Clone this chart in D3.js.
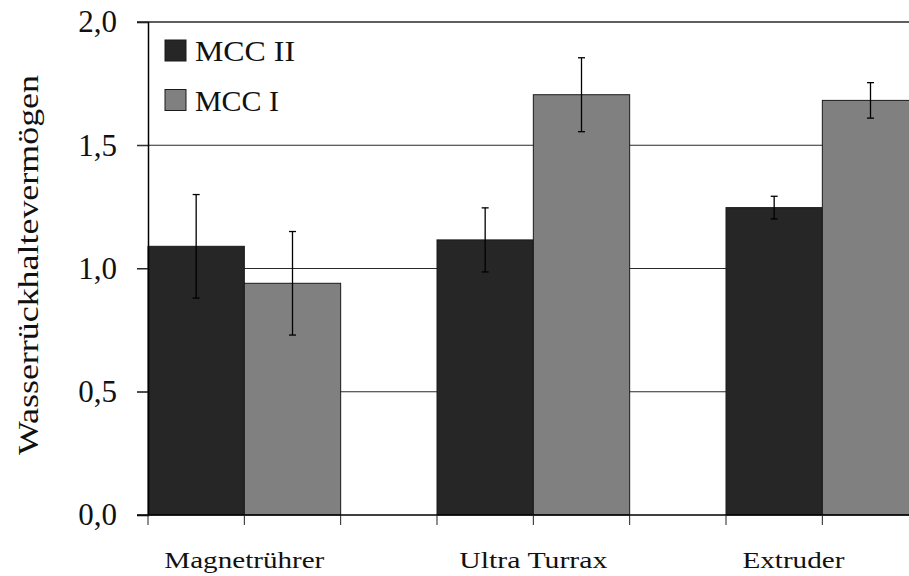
<!DOCTYPE html>
<html>
<head>
<meta charset="utf-8">
<script src="https://cdn.jsdelivr.net/npm/d3@7"></script>
<style>
  body { margin: 0; background: #fff; }
  svg { display: block; }
  text { font-family: "Liberation Serif", "Times New Roman", Times, serif; fill: #111; }
</style>
</head>
<body>
<div id="app"></div>
<script>
// data
const categories = ["Magnetrührer", "Ultra Turrax", "Extruder"];
const seriesNames = ["MCC II", "MCC I"];
const seriesColors = ["#262626", "#808080"];
const mccII = [1.09, 1.116, 1.247];
const mccIIErr = [0.21, 0.13, 0.046];
const mccI = [0.94, 1.705, 1.682];
const mccIErr = [0.21, 0.15, 0.072];
const yTicks = [0, 0.5, 1.0, 1.5, 2.0];
const yTitle = "Wasserrückhaltevermögen";

const width = 909, height = 576;
const plotLeft = 148, plotTop = 22, plotBottom = 515;
const step = 289; // width of one category slot

const rows = categories.map((c, i) => ({
  cat: c,
  vals: [
    { s: 0, v: mccII[i], e: mccIIErr[i] },
    { s: 1, v: mccI[i], e: mccIErr[i] }
  ]
}));

const svg = d3.select("#app").append("svg")
  .attr("width", width)
  .attr("height", height);

// excel style: gap width 100% -> half a bar of room either side
const x = d3.scaleBand()
  .domain(categories)
  .range([plotLeft - step / 6, plotLeft - step / 6 + step * 3])
  .paddingInner(1 / 3)
  .paddingOuter(1 / 6);

const xs = d3.scaleBand()
  .domain(d3.range(seriesNames.length))
  .range([0, x.bandwidth()]);

const y = d3.scaleLinear().domain([0, 2]).range([plotBottom, plotTop]);

// gridlines
svg.append("g")
  .selectAll("line")
  .data(yTicks.filter(d => d > 0))
  .join("line")
    .attr("x1", plotLeft - 11).attr("x2", width)
    .attr("y1", d => y(d)).attr("y2", d => y(d))
    .attr("stroke", "#2a2a2a")
    .attr("stroke-width", d => d === 2 ? 1.6 : 1.1);

// bars
const g = svg.append("g")
  .selectAll("g")
  .data(rows)
  .join("g")
    .attr("transform", d => `translate(${x(d.cat)},0)`);

g.selectAll("rect")
  .data(d => d.vals)
  .join("rect")
    .attr("x", d => xs(d.s))
    .attr("y", d => y(d.v))
    .attr("width", xs.bandwidth())
    .attr("height", d => y(0) - y(d.v))
    .attr("fill", d => seriesColors[d.s])
    .attr("stroke", "#1a1a1a")
    .attr("stroke-width", 1);

// error bars
const eb = g.selectAll("g.err")
  .data(d => d.vals)
  .join("g")
    .attr("class", "err")
    .attr("stroke", "#000")
    .attr("stroke-width", 1.3);
const cx = d => xs(d.s) + xs.bandwidth() / 2;
eb.append("line")
  .attr("x1", cx).attr("x2", cx)
  .attr("y1", d => y(d.v + d.e)).attr("y2", d => y(d.v - d.e));
eb.append("line")
  .attr("x1", d => cx(d) - 3.5).attr("x2", d => cx(d) + 3.5)
  .attr("y1", d => y(d.v + d.e)).attr("y2", d => y(d.v + d.e));
eb.append("line")
  .attr("x1", d => cx(d) - 3.5).attr("x2", d => cx(d) + 3.5)
  .attr("y1", d => y(d.v - d.e)).attr("y2", d => y(d.v - d.e));

// y axis
const yAxis = svg.append("g")
  .attr("transform", `translate(${plotLeft},0)`)
  .call(d3.axisLeft(y)
    .tickValues(yTicks)
    .tickSize(11)
    .tickPadding(20)
    .tickFormat(d => d3.format(".1f")(d).replace(".", ",")));
yAxis.attr("font-family", null);
yAxis.select(".domain").attr("stroke", "#000").attr("stroke-width", 1.5);
yAxis.selectAll(".tick line").attr("stroke", "#222");
yAxis.selectAll("text")
  .style("font-size", "31px")
  .attr("fill", "#111");

// x axis line + ticks at every bar edge
svg.append("line")
  .attr("x1", plotLeft - 11).attr("x2", width)
  .attr("y1", plotBottom).attr("y2", plotBottom)
  .attr("stroke", "#000").attr("stroke-width", 1.5);

const edges = [];
categories.forEach(c => {
  edges.push(x(c), x(c) + x.bandwidth() / 2, x(c) + x.bandwidth());
});
svg.append("g")
  .selectAll("line")
  .data(edges)
  .join("line")
    .attr("x1", d => d).attr("x2", d => d)
    .attr("y1", plotBottom).attr("y2", plotBottom + 10)
    .attr("stroke", "#222");

// category labels, centred on the visible part of the slot
const labelWidths = { "Magnetrührer": 160, "Ultra Turrax": 148, "Extruder": 102 };
svg.append("g")
  .selectAll("text")
  .data(categories)
  .join("text")
    .attr("x", c => {
      const a = x(c) - step / 6, b = Math.min(x(c) + x.bandwidth() + step / 6, width);
      return (a + b) / 2;
    })
    .attr("y", 568)
    .attr("text-anchor", "middle")
    .attr("textLength", c => labelWidths[c])
    .attr("lengthAdjust", "spacingAndGlyphs")
    .style("font-size", "24px")
    .text(c => c);

// y title
svg.append("text")
  .attr("transform", `translate(38,265) rotate(-90)`)
  .attr("text-anchor", "middle")
  .attr("textLength", 380)
  .attr("lengthAdjust", "spacingAndGlyphs")
  .style("font-size", "29px")
  .text(yTitle);

// legend
const leg = svg.append("g")
  .selectAll("g")
  .data(seriesNames)
  .join("g")
    .attr("transform", (d, i) => `translate(165,${40 + i * 49.5})`);
leg.append("rect")
  .attr("width", 21).attr("height", 21)
  .attr("fill", (d, i) => seriesColors[i])
  .attr("stroke", "#1a1a1a");
leg.append("text")
  .attr("x", 30).attr("y", 21)
  .attr("textLength", (d, i) => i === 0 ? 100 : 84)
  .attr("lengthAdjust", "spacingAndGlyphs")
  .style("font-size", "29px")
  .text(d => d);
</script>
</body>
</html>
